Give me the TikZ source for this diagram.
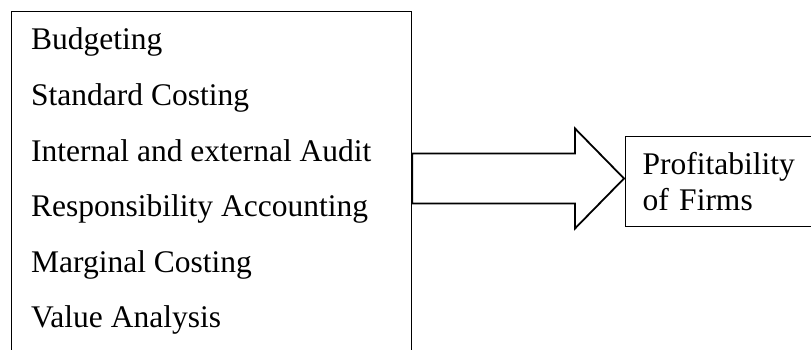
\documentclass[tikz,border=0pt]{standalone}
\usepackage{fontspec}
\setmainfont{Liberation Serif}
\usepackage{tikz}
\usetikzlibrary{positioning,calc}

\begin{document}
\begin{tikzpicture}[x=1pt,y=1pt,
every node/.style={font=\fontsize{31.5pt}{35.3pt}\selectfont},
listbox/.style={draw=black,line width=1.2pt,minimum width=400pt,minimum height=380pt,anchor=north west},
item/.style={inner sep=0pt,anchor=base west},
outbox/.style={draw=black,line width=1pt,minimum height=90pt,text width=190pt,align=left,inner xsep=17pt,anchor=north west},
bigarrow/.style={draw=black,line width=1.8pt,line join=miter}]
\useasboundingbox (0,0) rectangle (811,350);
\clip (0,0) rectangle (811,350);
\node[listbox] (tools) at (11,339) {};
\node[item] (bud) at (31,300) {Budgeting};
\node[item,below=55.6pt of bud.base west,anchor=base west] (std) {Standard Costing};
\node[item,below=55.6pt of std.base west,anchor=base west] (aud) {Internal and external Audit};
\node[item,below=55.6pt of aud.base west,anchor=base west] (resp) {Responsibility Accounting};
\node[item,below=55.6pt of resp.base west,anchor=base west] (marg) {Marginal Costing};
\node[item,below=55.6pt of marg.base west,anchor=base west] (val) {Value Analysis};
\node[outbox] (profit) at (625,214) {Profitability\\of Firms};
\coordinate (tip) at ($(profit.west)+(-1,3)$);
\draw[bigarrow] ([yshift=25pt]tools.east |- tip) -- ([shift={(-49pt,25pt)}]tip)
  -- ([shift={(-49pt,50pt)}]tip) -- (tip) -- ([shift={(-49pt,-50pt)}]tip)
  -- ([shift={(-49pt,-25pt)}]tip) -- ([yshift=-25pt]tools.east |- tip) -- cycle;
\end{tikzpicture}
\end{document}
